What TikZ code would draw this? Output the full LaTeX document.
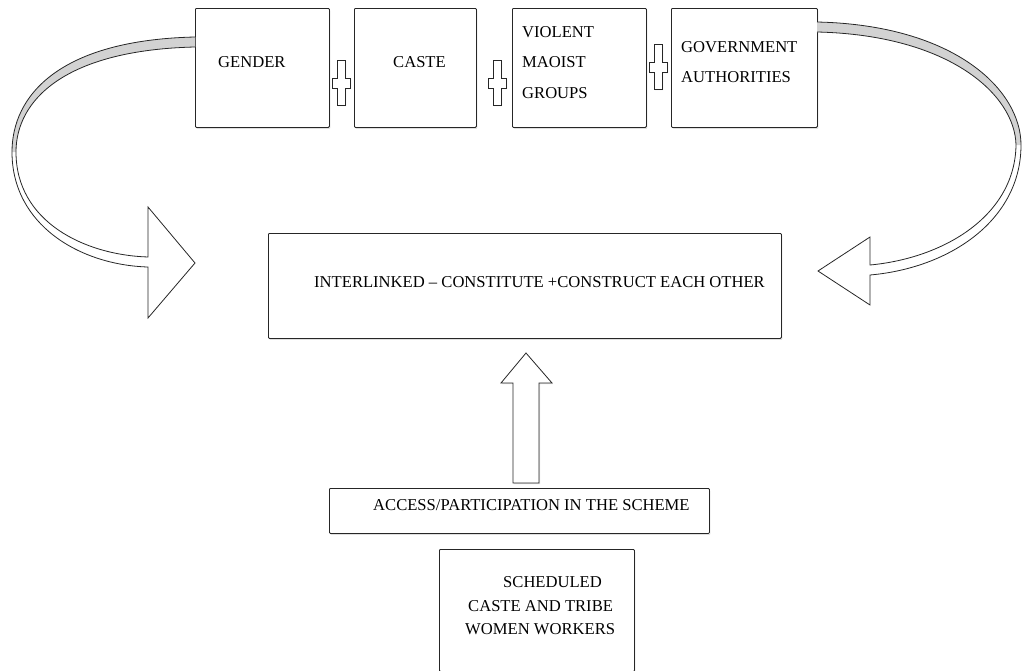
\documentclass[tikz,border=0pt]{standalone}
\usepackage{fontspec}
\setmainfont{Liberation Serif}
\usetikzlibrary{shadows}
\begin{document}
\begin{tikzpicture}[x=1pt,y=-1pt,
  box/.style={draw=black!85, line width=0.8pt, fill=white, inner sep=0pt, rounded corners=1pt,
    drop shadow={shadow xshift=1pt, shadow yshift=-1.5pt, opacity=0.25}},
  lbl/.style={font=\fontsize{16.6}{19}\selectfont, inner sep=0pt, anchor=west, text=black},
  outl/.style={draw=black!85, line width=0.8pt, line join=miter},
  pics/plussym/.style={code={
    \filldraw[outl, fill=white, drop shadow={shadow xshift=1pt, shadow yshift=-1pt, opacity=0.25}]
      (-4,-22) -- (4,-22) -- (4,-4) -- (9,-4) -- (9,6) -- (4,6) -- (4,23)
      -- (-4,23) -- (-4,6) -- (-9,6) -- (-9,-4) -- (-4,-4) -- cycle;
  }}]
\useasboundingbox (0,0) rectangle (1023,670);

% boxes
\node[box, anchor=north west, minimum width=134pt, minimum height=119pt] (gender) at (195,8) {};
\node[box, anchor=north west, minimum width=122pt, minimum height=119pt] (caste) at (354,8) {};
\node[box, anchor=north west, minimum width=134pt, minimum height=119pt] (maoist) at (512,8) {};
\node[box, anchor=north west, minimum width=146pt, minimum height=119pt] (govt) at (671,8) {};
\node[box, anchor=north west, minimum width=513pt, minimum height=105pt] (inter) at (268,233) {};
\node[box, anchor=north west, minimum width=380pt, minimum height=45pt] (access) at (329,488) {};
\node[box, anchor=north west, minimum width=195pt, minimum height=122pt] (sched) at (439,549) {};

% texts
\node[lbl] (tgender) at (218,62) {GENDER};
\node[lbl] (tcaste) at (393,62) {CASTE};
\node[lbl] (tm1) at (522,32) {VIOLENT};
\node[lbl] (tm2) at (522,62) {MAOIST};
\node[lbl] (tm3) at (522,93) {GROUPS};
\node[lbl] (tg1) at (681,47) {GOVERNMENT};
\node[lbl] (tg2) at (681,77) {AUTHORITIES};
\node[lbl] (tinter) at (314,282) {INTERLINKED – CONSTITUTE +CONSTRUCT EACH OTHER};
\node[lbl] (taccess) at (373,505) {ACCESS/PARTICIPATION IN THE SCHEME};
\node[lbl] (ts1) at (503,582) {SCHEDULED};
\node[lbl] (ts2) at (468,606) {CASTE AND TRIBE};
\node[lbl] (ts3) at (465,629) {WOMEN WORKERS};

% plus signs
\pic at (341,82) {plussym};
\pic at (497,82) {plussym};
\pic at (658,66) {plussym};

% left curved arrow
\fill[white] (195,37) .. controls (60,40) and (12,95) .. (12,152) .. controls (12,225) and (80,265) .. (148,267)
  -- (148,318) -- (195,263) -- (148,207) -- (148,257) .. controls (85,255) and (16,222) .. (16,152)
  .. controls (16,100) and (65,50) .. (195,47) -- cycle;
\fill[gray!35] (195,37) .. controls (60,40) and (12,95) .. (12,152) -- (16,152)
  .. controls (16,100) and (65,50) .. (195,47) -- cycle;
\draw[outl] (195,37) .. controls (60,40) and (12,95) .. (12,152) .. controls (12,225) and (80,265) .. (148,267)
  -- (148,318) -- (195,263) -- (148,207) -- (148,257) .. controls (85,255) and (16,222) .. (16,152)
  .. controls (16,100) and (65,50) .. (195,47);

% right curved arrow
\fill[white] (817,22) .. controls (955,25) and (1021,90) .. (1021,145) .. controls (1021,220) and (950,268) .. (870,275)
  -- (870,305) -- (818,271) -- (870,237) -- (870,265) .. controls (945,258) and (1015,215) .. (1016,145)
  .. controls (1015,95) and (950,35) .. (817,32) -- cycle;
\fill[gray!35] (817,22) .. controls (955,25) and (1021,90) .. (1021,145) -- (1016,145)
  .. controls (1015,95) and (950,35) .. (817,32) -- cycle;
\draw[outl] (817,22) .. controls (955,25) and (1021,90) .. (1021,145) .. controls (1021,220) and (950,268) .. (870,275)
  -- (870,305) -- (818,271) -- (870,237) -- (870,265) .. controls (945,258) and (1015,215) .. (1016,145)
  .. controls (1015,95) and (950,35) .. (817,32);

% up arrow
\filldraw[outl, fill=white, drop shadow={shadow xshift=1pt, shadow yshift=-1pt, opacity=0.25}]
  (513,483) -- (513,383) -- (501,383) -- (526,353) -- (552,383) -- (539,383) -- (539,483) -- cycle;
\end{tikzpicture}
\end{document}
